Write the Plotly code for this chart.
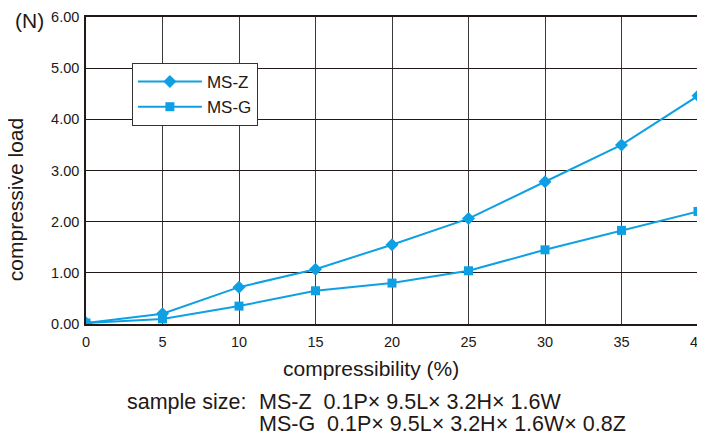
import plotly.graph_objects as go

compressibility = [0, 5, 10, 15, 20, 25, 30, 35, 40]
ms_z = [0.02, 0.20, 0.72, 1.07, 1.55, 2.06, 2.78, 3.50, 4.46]
ms_g = [0.02, 0.10, 0.35, 0.65, 0.80, 1.04, 1.45, 1.83, 2.20]
y_ticks = [0, 1, 2, 3, 4, 5, 6]
y_labels = ["0.00", "1.00", "2.00", "3.00", "4.00", "5.00", "6.00"]
x_ticks = [0, 5, 10, 15, 20, 25, 30, 35, 40]

blue = "#0fa0e3"
font = "Liberation Sans, Arial, sans-serif"

fig = go.Figure()
fig.add_trace(go.Scatter(x=compressibility, y=ms_z, name="MS-Z", mode="lines+markers",
                         line=dict(color=blue, width=2),
                         marker=dict(symbol="diamond", size=10, color=blue)))
fig.add_trace(go.Scatter(x=compressibility, y=ms_g, name="MS-G", mode="lines+markers",
                         line=dict(color=blue, width=2),
                         marker=dict(symbol="square", size=9, color=blue)))

# page body has an 8px margin; plot area should land at x 86..698, y 17..324
fig.update_layout(
    width=697, height=426,
    margin=dict(l=78, r=7, t=9, b=110),
    paper_bgcolor="white", plot_bgcolor="white",
    font=dict(family=font, size=14, color="#231815"),
    showlegend=True,
    legend=dict(x=0.075, y=0.85, xanchor="left", yanchor="top",
                bordercolor="#333333", borderwidth=1, bgcolor="white",
                font=dict(size=17), itemwidth=64, entrywidth=100,
                tracegroupgap=10),
    xaxis=dict(range=[0, 40], tickvals=x_ticks, showgrid=True, gridcolor="#3a3a3a",
               gridwidth=1, showline=True, linecolor="#231815", linewidth=1.5,
               mirror=True, ticks="", zeroline=False, automargin=False,
               ticklabeloverflow="allow",
               tickfont=dict(size=14.5), ticklabelstandoff=4),
    yaxis=dict(range=[0, 6], tickvals=y_ticks, ticktext=y_labels, showgrid=True,
               gridcolor="#231815", gridwidth=1, showline=True, linecolor="#231815",
               linewidth=1.5, mirror=True, ticks="", zeroline=False, automargin=False,
               tickfont=dict(size=14.5), ticklabelstandoff=2),
)

fig.add_annotation(text="(N)", xref="paper", yref="paper", x=-0.093, y=0.99,
                   xanchor="center", yanchor="middle", showarrow=False,
                   font=dict(size=21))
fig.add_annotation(text="compressive load", xref="paper", yref="paper", x=-0.114, y=0.404,
                   textangle=-90, xanchor="center", yanchor="middle", showarrow=False,
                   font=dict(size=21))
fig.add_annotation(text="compressibility (%)", xref="paper", yref="paper", x=0.466, y=0,
                   xanchor="center", yanchor="middle", showarrow=False,
                   font=dict(size=21), yshift=-44)
fig.add_annotation(text="sample size:", xref="paper", yref="paper",
                   x=0.0637, y=0, xanchor="left", yanchor="middle", showarrow=False,
                   font=dict(size=21.5), yshift=-78)
fig.add_annotation(text="MS-Z  0.1P× 9.5L× 3.2H× 1.6W", xref="paper", yref="paper",
                   x=0.2794, y=0, xanchor="left", yanchor="middle", showarrow=False,
                   font=dict(size=21.5), yshift=-78)
fig.add_annotation(text="MS-G  0.1P× 9.5L× 3.2H× 1.6W× 0.8Z", xref="paper", yref="paper",
                   x=0.2794, y=0, xanchor="left", yanchor="middle", showarrow=False,
                   font=dict(size=21.5), yshift=-100)

fig.write_html("out.html")
